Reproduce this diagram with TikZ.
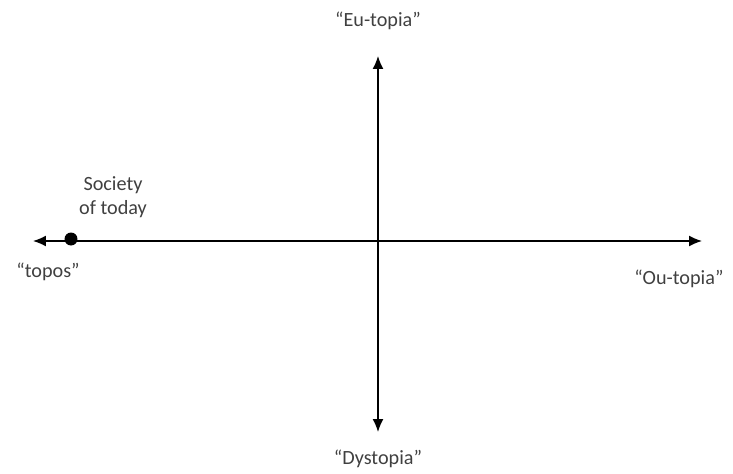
\documentclass[tikz,border=0pt]{standalone}
\usepackage{fontspec}
\setmainfont{Carlito}
\usetikzlibrary{arrows.meta,positioning}
\definecolor{ctext}{RGB}{64,64,64}

\begin{document}
\begin{tikzpicture}[x=0.02cm,y=-0.02cm,>={Latex[length=2.6mm,width=2.2mm]},
  axis/.style={thick,<->},
  lbl/.style={font=\fontsize{11.5}{14}\selectfont,text=ctext,inner sep=1pt,align=center}]
  \useasboundingbox (0,0) rectangle (733,473);
  \coordinate (west) at (33,241);
  \coordinate (east) at (702,241);
  \coordinate (north) at (378,56);
  \coordinate (south) at (378,432);
  \draw[axis] (west) -- (east);
  \draw[axis] (south) -- (north);
  \node[lbl] (eutopia) at (378,21) {``Eu-topia''};
  \node[lbl] (dystopia) at (378,459) {``Dystopia''};
  \node[lbl] (topos) at (48,272) {``topos''};
  \node[lbl] (outopia) at (679,279) {``Ou-topia''};
  \node[circle,fill=black,inner sep=0pt,minimum size=0.26cm] (today) at (71,239) {};
  \node[lbl] (society) at (113,197) {Society\\of today};
\end{tikzpicture}
\end{document}
